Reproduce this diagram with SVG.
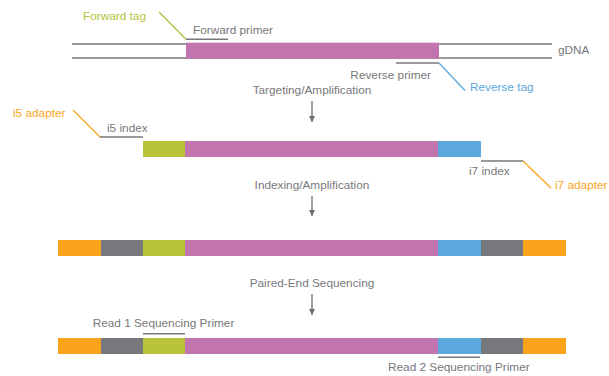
<svg xmlns="http://www.w3.org/2000/svg" width="609" height="376" viewBox="0 0 609 376">
<defs>
<style>
text{font-family:"Liberation Sans",Arial,Helvetica,sans-serif;font-size:11.8px;fill:#77787b}
.c{text-anchor:middle}
.e{text-anchor:end}
.tg{fill:#b5bf3a}.tb{fill:#5aa6dc}.to{fill:#f9a51c}
.ln{stroke:#77787b;stroke-width:1.4;fill:none}
.lg{stroke:#b5bf3a;stroke-width:1.3;fill:none}
.lb{stroke:#5aa6dc;stroke-width:1.3;fill:none}
.lo{stroke:#f9a51c;stroke-width:1.3;fill:none}
.ar{stroke:#6d6e71;stroke-width:1.3;fill:none}
.pk{fill:#c274ae}.gr{fill:#b9c33a}.bl{fill:#5ca9dd}.dg{fill:#77787b}.or{fill:#f9a31b}
</style>
<marker id="ah" viewBox="0 0 6 6" refX="6" refY="3" markerWidth="6" markerHeight="6" markerUnits="userSpaceOnUse" orient="auto">
<path d="M0,0 L6,3 L0,6 Z" fill="#6d6e71"/>
</marker>
</defs>
<g id="connectors">
<line class="ar" x1="312" y1="101" x2="312" y2="122" marker-end="url(#ah)"/>
<line class="ar" x1="312" y1="196" x2="312" y2="216" marker-end="url(#ah)"/>
<line class="ar" x1="312" y1="294" x2="312" y2="315" marker-end="url(#ah)"/>
</g>
<g id="gdna">
<line class="ln" x1="72" y1="44" x2="552" y2="44"/>
<line class="ln" x1="72" y1="58" x2="552" y2="58"/>
<rect class="pk" x="186" y="42.7" width="253" height="16"/>
<text x="558" y="54.3">gDNA</text>
</g>
<g id="forward-primer">
<line class="lg" x1="159" y1="12" x2="186" y2="39.3"/>
<line class="ln" x1="186" y1="39.3" x2="228" y2="39.3"/>
<text class="tg" x="83" y="19.5">Forward tag</text>
<text x="193" y="33.7">Forward primer</text>
</g>
<g id="reverse-primer">
<line class="ln" x1="396" y1="63" x2="439" y2="63"/>
<line class="lb" x1="439" y1="63" x2="465" y2="90.5"/>
<text class="e" x="431" y="78.5">Reverse primer</text>
<text class="tb" x="470" y="90.5">Reverse tag</text>
</g>
<g id="step1"><text class="c" x="312" y="94.3">Targeting/Amplification</text></g>
<g id="amplicon">
<rect class="gr" x="143" y="141" width="42" height="16"/>
<rect class="pk" x="185" y="141" width="253" height="16"/>
<rect class="bl" x="438" y="141" width="43" height="16"/>
<line class="lo" x1="73" y1="110" x2="100" y2="137"/>
<line class="ln" x1="100" y1="137" x2="143" y2="137"/>
<text class="to" x="13" y="117.3">i5 adapter</text>
<text x="107" y="131.7">i5 index</text>
<line class="ln" x1="481" y1="161" x2="523" y2="161"/>
<line class="lo" x1="523" y1="161" x2="551" y2="188"/>
<text x="469" y="175">i7 index</text>
<text class="to" x="555" y="189">i7 adapter</text>
</g>
<g id="step2"><text class="c" x="312" y="189">Indexing/Amplification</text></g>
<g id="library">
<rect class="or" x="58" y="240" width="43" height="16"/>
<rect class="dg" x="101" y="240" width="42" height="16"/>
<rect class="gr" x="143" y="240" width="42" height="16"/>
<rect class="pk" x="185" y="240" width="253" height="16"/>
<rect class="bl" x="438" y="240" width="43" height="16"/>
<rect class="dg" x="481" y="240" width="42" height="16"/>
<rect class="or" x="523" y="240" width="43" height="16"/>
</g>
<g id="step3"><text class="c" x="312" y="287">Paired-End Sequencing</text></g>
<g id="sequencing">
<rect class="or" x="58" y="338" width="43" height="16"/>
<rect class="dg" x="101" y="338" width="42" height="16"/>
<rect class="gr" x="143" y="338" width="42" height="16"/>
<rect class="pk" x="185" y="338" width="253" height="16"/>
<rect class="bl" x="438" y="338" width="43" height="16"/>
<rect class="dg" x="481" y="338" width="42" height="16"/>
<rect class="or" x="523" y="338" width="43" height="16"/>
<line class="ln" x1="143" y1="333.7" x2="185" y2="333.7"/>
<text x="92.7" y="327.3">Read 1 Sequencing Primer</text>
<line class="ln" x1="438" y1="357.3" x2="480" y2="357.3"/>
<text x="388" y="371">Read 2 Sequencing Primer</text>
</g>
</svg>
